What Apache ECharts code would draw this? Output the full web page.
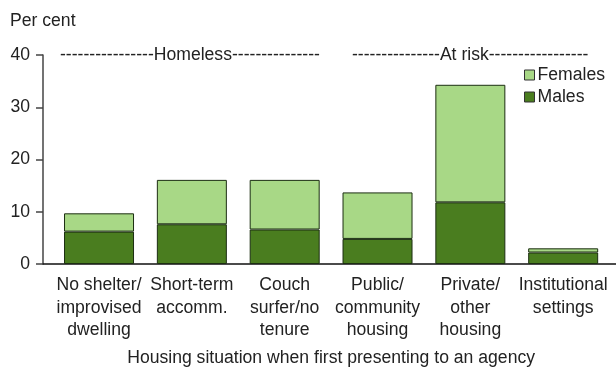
<!DOCTYPE html>
<html>
<head>
<meta charset="utf-8">
<script src="https://cdn.jsdelivr.net/npm/echarts@6/dist/echarts.min.js"></script>
<style>
  html, body { margin: 0; padding: 0; background: #fff; }
  #chart { width: 616px; height: 369px; }
</style>
</head>
<body>
<div id="chart"></div>
<script>
// Housing situation of clients when first presenting to an agency, by sex (per cent)
const categories = [
  'No shelter/\nimprovised\ndwelling',
  'Short-term\naccomm.',
  'Couch\nsurfer/no\ntenure',
  'Public/\ncommunity\nhousing',
  'Private/\nother\nhousing',
  'Institutional\nsettings'
];
const males = [6.2, 7.6, 6.6, 4.8, 11.8, 2.2];
const females = [3.5, 8.5, 9.5, 8.9, 22.5, 0.8];
const yTicks = [0, 10, 20, 30, 40];
const groupLabels = [
  '----------------Homeless---------------',
  '---------------At risk-----------------'
];

const FONT = '"Liberation Sans", Arial, sans-serif';
const FS = 17.6;
const TEXT = '#222';
const MALE = '#4a7d1f';
const FEMALE = '#a8d886';
const EDGE = '#1c2e12';

const chart = echarts.init(document.getElementById('chart'), null, { renderer: 'canvas' });

const TOP = 55, BOTTOM = 105;

chart.setOption({
  animation: false,
  textStyle: { fontFamily: FONT },
  grid: [
    // plotting area for the bars (category bands)
    { left: 52.6, right: 6.4, top: TOP, bottom: BOTTOM, outerBoundsMode: 'none' },
    // frame carrying the y scale and the full-width baseline
    { left: 43, right: 0, top: TOP, bottom: BOTTOM, outerBoundsMode: 'none' }
  ],
  legend: {
    data: ['Females', 'Males'],
    orient: 'vertical',
    left: 519,
    top: 61,
    itemWidth: 10,
    itemHeight: 10,
    itemGap: 4,
    icon: 'rect',
    itemStyle: { borderColor: '#333', borderWidth: 1 },
    textStyle: { fontFamily: FONT, fontSize: FS, color: TEXT, padding: [0, 0, 0, -2] }
  },
  xAxis: [
    {
      type: 'category',
      gridIndex: 0,
      data: categories,
      axisLine: { show: false },
      axisTick: { show: false },
      axisLabel: {
        interval: 0,
        fontFamily: FONT,
        fontSize: FS,
        color: TEXT,
        lineHeight: 22.5,
        margin: 10
      },
      name: 'Housing situation when first presenting to an agency',
      nameLocation: 'middle',
      nameGap: 85,
      nameTextStyle: { fontFamily: FONT, fontSize: FS, color: TEXT }
    },
    {
      type: 'value',
      gridIndex: 1,
      min: 0,
      max: 1,
      splitLine: { show: false },
      axisLine: { show: true, onZero: false, lineStyle: { color: '#111', width: 1.5 } },
      axisTick: { show: false },
      axisLabel: { show: false }
    }
  ],
  yAxis: [
    {
      type: 'value',
      gridIndex: 0,
      min: 0,
      max: 40,
      show: false
    },
    {
      type: 'value',
      gridIndex: 1,
      min: 0,
      max: 40,
      interval: 10,
      splitLine: { show: false },
      axisLine: { show: true, onZero: false, lineStyle: { color: '#444', width: 1.5 } },
      axisTick: { show: true, length: 7, lineStyle: { color: '#444', width: 1.5 } },
      axisLabel: {
        customValues: yTicks,
        fontFamily: FONT, fontSize: FS, color: TEXT, margin: 13
      },
      name: 'Per cent',
      nameLocation: 'end',
      nameGap: 25,
      nameTextStyle: { fontFamily: FONT, fontSize: FS, color: TEXT, align: 'left', padding: [0, 0, 0, -33] }
    }
  ],
  graphic: [
    {
      type: 'text', x: 60, y: 55,
      style: { text: groupLabels[0], font: FS + 'px ' + FONT, fill: TEXT, align: 'left', verticalAlign: 'middle' }
    },
    {
      type: 'text', x: 352, y: 55,
      style: { text: groupLabels[1], font: FS + 'px ' + FONT, fill: TEXT, align: 'left', verticalAlign: 'middle' }
    }
  ],
  series: [
    {
      name: 'Males',
      type: 'bar',
      stack: 'total',
      xAxisIndex: 0,
      yAxisIndex: 0,
      barWidth: 70,
      data: males,
      itemStyle: { color: MALE, borderColor: EDGE, borderWidth: 1 }
    },
    {
      name: 'Females',
      type: 'bar',
      stack: 'total',
      xAxisIndex: 0,
      yAxisIndex: 0,
      barWidth: 70,
      data: females,
      itemStyle: { color: FEMALE, borderColor: EDGE, borderWidth: 1 }
    }
  ]
});
</script>
</body>
</html>
